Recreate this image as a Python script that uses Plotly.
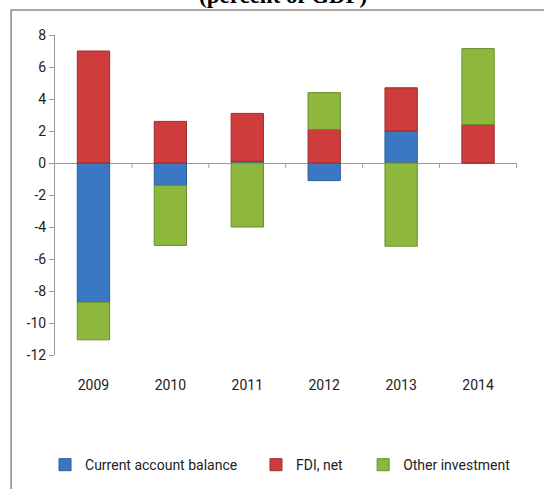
import plotly.graph_objects as go

years = ["2009", "2010", "2011", "2012", "2013", "2014"]
current_account = [-8.7, -1.4, 0.1, -1.1, 2.0, 0.0]
fdi_net = [7.0, 2.6, 3.0, 2.1, 2.7, 2.4]
other_investment = [-2.35, -3.75, -4.0, 2.3, -5.2, 4.75]
y_ticks = [8, 6, 4, 2, 0, -2, -4, -6, -8, -10, -12]
y_tick_text = ["8", "6", "4", "2", "0", "-2", "-4", "-6", "-8", "-10", "-12"]

FONT = "Roboto, Arial, sans-serif"

fig = go.Figure()
series = [
    ("Current account balance", current_account, "#3B78C4", "#2A5C9A", "legend"),
    ("FDI, net", fdi_net, "#CE3C3C", "#9A2C2C", "legend2"),
    ("Other investment", other_investment, "#8DB83D", "#6A8C2C", "legend3"),
]
for name, vals, col, edge, leg in series:
    fig.add_trace(go.Bar(
        x=years, y=vals, name=name, legend=leg,
        marker=dict(color=col, line=dict(color=edge, width=1)),
    ))

leg_common = dict(orientation="h", xanchor="left", y=-0.344, yanchor="middle",
                  font=dict(size=14), itemwidth=30, bgcolor="rgba(0,0,0,0)")

fig.update_layout(
    barmode="relative",
    bargap=0.58,
    width=544, height=489,
    margin=dict(l=55, r=27, t=35, b=134, autoexpand=False),
    paper_bgcolor="white", plot_bgcolor="white",
    font=dict(family=FONT, size=13, color="#222"),
    showlegend=True,
    legend=dict(x=-0.0216, **leg_common),
    legend2=dict(x=0.435, **leg_common),
    legend3=dict(x=0.667, **leg_common),
    xaxis=dict(showgrid=False, zeroline=False, showline=False, ticks="",
               tickfont=dict(size=14), ticklabelstandoff=20, automargin=False),
    yaxis=dict(range=[-12, 8], tickvals=y_ticks, ticktext=y_tick_text, showgrid=False,
               zeroline=True, zerolinecolor="#9a9a9a", zerolinewidth=1,
               showline=True, linecolor="#9a9a9a", linewidth=1,
               ticks="outside", ticklen=5, tickcolor="#9a9a9a",
               tickfont=dict(size=14), automargin=False),
    annotations=[dict(text="<b>(percent of GDP)</b>", xref="paper", yref="paper",
                      x=0.494, y=1.124, xanchor="center", yanchor="middle",
                      showarrow=False,
                      font=dict(family="Liberation Serif, Times New Roman, serif", size=23, color="black"))],
    shapes=[dict(type="rect", xref="paper", yref="paper",
                 x0=-0.095, x1=1.2, y0=-0.5, y1=1.078,
                 line=dict(color="#8a8a8a", width=1.5), layer="below")]
    + [dict(type="line", xref="x", yref="y", x0=i + 0.5, x1=i + 0.5, y0=0, y1=-0.3,
            line=dict(color="#9a9a9a", width=1)) for i in range(len(years))],
)

fig.write_html("out.html", config={"displayModeBar": False},
               post_script="document.body.style.margin='0px';")
